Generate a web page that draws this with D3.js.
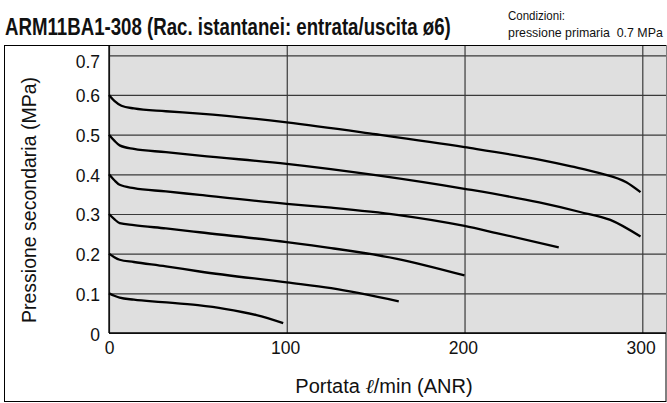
<!DOCTYPE html>
<html>
<head>
<meta charset="utf-8">
<script src="https://cdn.jsdelivr.net/npm/d3@7"></script>
<style>
  html, body { margin: 0; padding: 0; background: #fff; }
  svg { display: block; }
</style>
</head>
<body>
<svg id="chart" width="667" height="403"></svg>
<script>
// ---- data ----
const xTicks = [0, 100, 200, 300];
const yTicks = [0, 0.1, 0.2, 0.3, 0.4, 0.5, 0.6, 0.7];
const setPressures = [0.6, 0.5, 0.4, 0.3, 0.2, 0.1];

const curve06 = [[0,0.6],[3,0.585],[7,0.573],[14,0.566],[32,0.559],[51,0.553],[100,0.531],[150,0.501],[200,0.4685],[242,0.437],[260,0.42],[276,0.403],[291,0.38],[299,0.355]];
const curve05 = [[0,0.5],[3,0.485],[6,0.473],[14,0.464],[32,0.456],[51,0.447],[100,0.4265],[150,0.398],[200,0.3635],[242,0.329],[265,0.305],[282,0.285],[299,0.243]];
const curve04 = [[0,0.4],[3,0.385],[6,0.3735],[14,0.365],[32,0.357],[51,0.348],[100,0.3257],[125,0.316],[162,0.298],[200,0.27],[218,0.252],[253,0.2157]];
const curve03 = [[0,0.3],[3,0.287],[6,0.277],[14,0.272],[32,0.2635],[51,0.254],[100,0.229],[125,0.214],[162,0.187],[200,0.145]];
const curve02 = [[0,0.2],[3,0.191],[6,0.1846],[14,0.179],[32,0.168],[51,0.155],[100,0.1275],[125,0.113],[163,0.08]];
const curve01 = [[0,0.1],[3,0.094],[6,0.089],[14,0.084],[30,0.078],[50,0.07],[65,0.061],[83,0.045],[98,0.025]];
const curves = [curve06, curve05, curve04, curve03, curve02, curve01];

const titleText = "ARM11BA1-308 (Rac. istantanei: entrata/uscita ø6)";
const condText1 = "Condizioni:";
const condText2 = "pressione primaria\u00a0\u00a00.7 MPa";
const yTitle = "Pressione secondaria (MPa)";

// ---- layout ----
const svg = d3.select("#chart");
const plotL = 109, plotR = 666, plotT = 45, plotB = 333;
const x = d3.scaleLinear().domain([0, 300]).range([plotL, 642.3]);
const y = d3.scaleLinear().domain([0, 0.7]).range([plotB, 55.3]);

// outer frame
svg.append("rect")
  .attr("x", 4.5).attr("y", 45.5).attr("width", 661.5).attr("height", 356)
  .attr("fill", "#fff").attr("stroke", "#000").attr("stroke-width", 1);

// plot background
svg.append("rect")
  .attr("x", plotL).attr("y", plotT).attr("width", plotR - plotL).attr("height", plotB - plotT)
  .attr("fill", "#dfdfdf");

// y axis with grid
const yAxis = d3.axisLeft(y).tickValues(yTicks)
  .tickSize(-(plotR - plotL)).tickPadding(9)
  .tickFormat(d => d === 0 ? "0" : d.toFixed(1));
const gy = svg.append("g").attr("transform", `translate(${plotL},0)`).call(yAxis);
gy.select(".domain").remove();
gy.selectAll(".tick line").attr("stroke", "#3a3a3a").attr("stroke-width", 1.2);
gy.selectAll(".tick text")
  .attr("font-family", "'Liberation Sans', Arial, Helvetica, sans-serif")
  .attr("font-size", 17.5).attr("fill", "#111")
  .attr("dy", d => d === 0.7 ? "0.7em" : "0.4em");

// x axis with grid
const xAxis = d3.axisBottom(x).tickValues(xTicks)
  .tickSize(-(plotB - plotT)).tickPadding(9);
const gx = svg.append("g").attr("transform", `translate(0,${plotB})`).call(xAxis);
gx.select(".domain").remove();
gx.selectAll(".tick line").attr("stroke", "#3a3a3a").attr("stroke-width", 1.2);
gx.selectAll(".tick text")
  .attr("font-family", "'Liberation Sans', Arial, Helvetica, sans-serif")
  .attr("font-size", 17.5).attr("fill", "#111")
  .attr("dx", d => d === 0 ? "0" : "-0.1em");

// axis lines
svg.append("line").attr("x1", plotL).attr("x2", plotL).attr("y1", plotT).attr("y2", plotB)
  .attr("stroke", "#000").attr("stroke-width", 1.3);
svg.append("line").attr("x1", plotL).attr("x2", plotR).attr("y1", plotB).attr("y2", plotB)
  .attr("stroke", "#000").attr("stroke-width", 1.3);
svg.append("line").attr("x1", plotL).attr("x2", plotR).attr("y1", plotT + 0.5).attr("y2", plotT + 0.5)
  .attr("stroke", "#000").attr("stroke-width", 1);

// curves
const line = d3.line().x(d => x(d[0])).y(d => y(d[1])).curve(d3.curveMonotoneX);
svg.append("g").selectAll("path").data(curves).join("path")
  .attr("d", line)
  .attr("fill", "none").attr("stroke", "#000").attr("stroke-width", 2.3)
  .attr("stroke-linecap", "butt").attr("stroke-linejoin", "round");

// condensed text helper: scale horizontally to a target width
const narrowFont = "'Liberation Sans Narrow', 'Arial Narrow', 'Liberation Sans', sans-serif";
function condensed(str, x0, y0, size, width, bold) {
  const g = svg.append("g");
  const t = g.append("text")
    .attr("x", 0).attr("y", 0)
    .attr("font-family", narrowFont)
    .attr("font-weight", bold ? "bold" : "normal")
    .attr("font-size", size).attr("fill", "#111")
    .text(str);
  const w = t.node().getComputedTextLength();
  const s = w > 0 ? width / w : 1;
  g.attr("transform", `translate(${x0},${y0}) scale(${s},1)`);
  return g;
}

// title
condensed(titleText, 5, 35, 24, 446, true);

// conditions
condensed(condText1, 508, 20, 13, 57, false);
condensed(condText2, 508, 37, 13, 155, false);

// x axis title
const xt = svg.append("text")
  .attr("x", 384).attr("y", 393).attr("text-anchor", "middle")
  .attr("font-family", "'Liberation Sans', Arial, Helvetica, sans-serif")
  .attr("font-size", 20).attr("fill", "#111");
xt.append("tspan").text("Portata ");
xt.append("tspan").attr("font-style", "italic").attr("font-family", "'DejaVu Serif', serif").text("ℓ");
xt.append("tspan").text("/min (ANR)");

// y axis title
svg.append("text")
  .attr("transform", "translate(36,200) rotate(-90)")
  .attr("text-anchor", "middle")
  .attr("font-family", "'Liberation Sans', Arial, Helvetica, sans-serif")
  .attr("font-size", 19.5).attr("fill", "#111")
  .text(yTitle);
</script>
</body>
</html>
